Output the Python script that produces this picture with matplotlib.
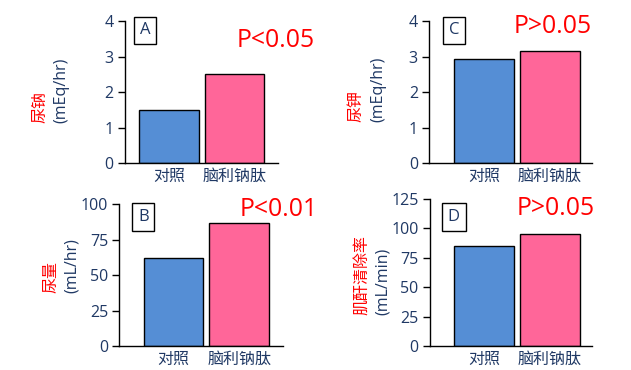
import matplotlib
matplotlib.use('Agg')
import matplotlib.pyplot as plt

plt.rcParams['font.family'] = ['Open Sans', 'Noto Sans CJK SC', 'DejaVu Sans']

W, H = 631, 370
NAVY = '#1F3864'
BAR_COLORS = ['#558ED5', '#FF6699']

groups = ['对照', '脑利钠肽']
panel_letters = ['A', 'B', 'C', 'D']
p_texts = ['P<0.05', 'P<0.01', 'P>0.05', 'P>0.05']
label_names = ['尿钠', '尿量', '尿钾', '肌酐清除率']
label_units = ['(mEq/hr)', '(mL/hr)', '(mEq/hr)', '(mL/min)']
values_a = [1.5, 2.5]
values_b = [62, 87]
values_c = [2.93, 3.15]
values_d = [85, 95]
yticks_a = [0, 1, 2, 3, 4]
yticks_b = [0, 25, 50, 75, 100]
yticks_c = [0, 1, 2, 3, 4]
yticks_d = [0, 25, 50, 75, 100, 125]

# pixel layout: axes (left, right, bottom, top), xlim, letter box centre, p text (right, baseline), label x centres, label bottom
layout = [
    dict(ax=(124.7, 277.7, 163.3, 21), xlim=(-0.676, 1.66), box=(145, 30.5),
         p=(315, 46.7), lab=(40, 61.5, 123)),
    dict(ax=(119.3, 282.7, 346.3, 204.3), xlim=(-0.826, 1.663), box=(143.3, 217),
         p=(318, 216), lab=(51.7, 71.7, 293.3)),
    dict(ax=(429, 592.3, 163.3, 21), xlim=(-0.835, 1.645), box=(454, 30.5),
         p=(592, 32.7), lab=(356.7, 378.3, 122)),
    dict(ax=(429.7, 592.3, 346.3, 199), xlim=(-0.83, 1.647), box=(453.8, 216.8),
         p=(595, 215), lab=(363.3, 383.3, 315)),
]

all_values = [values_a, values_b, values_c, values_d]
all_ticks = [yticks_a, yticks_b, yticks_c, yticks_d]

fig = plt.figure(figsize=(W / 100, H / 100), dpi=100)


def fx(px):
    return px / W


def fy(py):
    return 1 - py / H


for i in range(4):
    lay = layout[i]
    l, r, b, t = lay['ax']
    ax = fig.add_axes([fx(l), fy(b), (r - l) / W, (b - t) / H])
    ax.bar(range(len(groups)), all_values[i], width=0.907, color=BAR_COLORS,
           edgecolor='black', linewidth=1.0)
    ticks = all_ticks[i]
    ax.set_ylim(ticks[0], ticks[-1])
    ax.set_xlim(*lay['xlim'])
    ax.set_yticks(ticks)
    ax.set_xticks(range(len(groups)))
    ax.set_xticklabels(groups)
    for s in ['top', 'right']:
        ax.spines[s].set_visible(False)
    for s in ['left', 'bottom']:
        ax.spines[s].set_linewidth(1.0)
        ax.spines[s].set_color('black')
    ax.spines['left'].set_zorder(0)
    ax.tick_params(axis='y', direction='out', length=5, width=1.0, labelsize=11.5,
                   labelcolor=NAVY, pad=3)
    ax.tick_params(axis='x', length=0, labelsize=11.5, labelcolor=NAVY, pad=4)

    bx, by = lay['box']
    fig.text(fx(bx), fy(by), panel_letters[i], ha='center', va='center',
             fontsize=12, color=NAVY,
             bbox=dict(boxstyle='square,pad=0.35', facecolor='white',
                       edgecolor='black', linewidth=1.0))

    px, py = lay['p']
    fig.text(fx(px), fy(py), p_texts[i], ha='right', va='baseline',
             fontsize=17.8, color='red')

    rx, nx, ly = lay['lab']
    fig.text(fx(rx), fy(ly), label_names[i], rotation=90, ha='center',
             va='bottom', fontsize=11.5, color='red')
    fig.text(fx(nx), fy(ly), label_units[i], rotation=90, ha='center',
             va='bottom', fontsize=11.5, color=NAVY)

fig.savefig('out.png', dpi=100)
